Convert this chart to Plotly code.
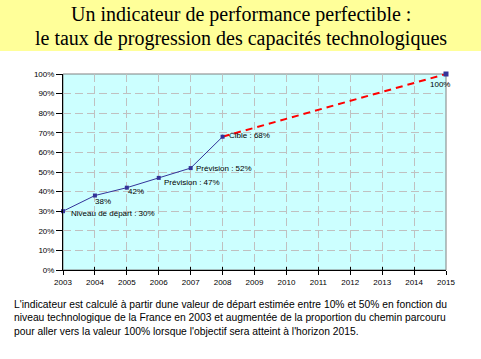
import plotly.graph_objects as go

# ---- data ----
years = [2003, 2004, 2005, 2006, 2007, 2008]
values = [30, 38, 42, 47, 52, 68]
target_years = [2008, 2015]
target_values = [68, 100]
x_ticks = list(range(2003, 2016))
y_ticks = list(range(0, 101, 10))

label_texts = ["Niveau de départ : 30%", "38%", "42%", "Prévision : 47%", "Prévision : 52%", "Cible : 68%", "100%"]
label_x = [2003.18, 2004.25, 2005.29, 2006.1, 2007.1, 2008.14, 2014.8]
label_y = [29, 35.2, 39.8, 44.4, 52, 68.4, 94.9]
label_anchor = ["left", "center", "center", "left", "left", "left", "center"]

title_lines = ["Un indicateur de performance perfectible :",
               "le taux de progression des capacités technologiques"]
footer = ("L'indicateur est calculé à partir dune valeur de départ estimée entre 10% et 50% en fonction du<br>"
          "niveau technologique de la France en 2003 et augmentée de la proportion du chemin parcouru<br>"
          "pour aller vers la valeur 100% lorsque l'objectif sera atteint à l'horizon 2015.")

W, H = 481, 359
L, R, T, B = 63, 35, 74, 89
PW, PH = W - L - R, H - T - B

def px(xp):
    return (xp - L) / PW

def py(yp):
    return (H - B - yp) / PH

navy = "#333399"

fig = go.Figure()
fig.add_trace(go.Scatter(x=target_years, y=target_values, mode="lines",
                         line=dict(color="#FF0000", width=2, dash="7px,5px"),
                         hoverinfo="skip", cliponaxis=False))
fig.add_trace(go.Scatter(x=years, y=values, mode="lines+markers",
                         line=dict(color=navy, width=1),
                         marker=dict(symbol="square", size=4, color=navy),
                         cliponaxis=False))
fig.add_trace(go.Scatter(x=target_years[-1:], y=target_values[-1:], mode="markers",
                         marker=dict(symbol="square", size=5, color=navy),
                         cliponaxis=False))
# helper axis for the inner half of the crossing x ticks
fig.add_trace(go.Scatter(x=x_ticks[:1], y=[None], xaxis="x2", yaxis="y", mode="markers",
                         showlegend=False, hoverinfo="skip"))

shapes = [
    dict(type="rect", xref="paper", yref="paper", x0=px(-20), x1=px(W + 20), y0=py(51), y1=py(-20),
         fillcolor="#FFFF99", line=dict(width=0), layer="below"),
    dict(type="rect", xref="paper", yref="paper", x0=0, x1=1, y0=0, y1=1,
         fillcolor="rgba(0,0,0,0)", line=dict(color="#808080", width=1), layer="below"),
]

annotations = []
for t, yy in zip(title_lines, [14, 39]):
    annotations.append(dict(text=t, xref="paper", yref="paper", x=px(240.5), y=py(yy),
                            xanchor="center", yanchor="middle", showarrow=False,
                            font=dict(family="Liberation Serif", size=20, color="black")))
annotations.append(dict(text=footer, xref="paper", yref="paper", x=px(12), y=py(297),
                        xanchor="left", yanchor="top", align="left", showarrow=False,
                        font=dict(family="Liberation Sans", size=10.3, color="black")))
for t, xx, yy, a in zip(label_texts, label_x, label_y, label_anchor):
    annotations.append(dict(text=t, x=xx, y=yy, xref="x", yref="y", xanchor=a, yanchor="middle",
                            showarrow=False,
                            font=dict(family="Liberation Sans", size=8, color="black")))

fig.update_layout(
    width=W, height=H,
    margin=dict(l=L, r=R, t=T, b=B, pad=0),
    paper_bgcolor="white", plot_bgcolor="#CCFFFF",
    showlegend=False,
    shapes=shapes, annotations=annotations,
    xaxis=dict(range=[x_ticks[0], x_ticks[-1]], tickvals=x_ticks, ticktext=[str(v) for v in x_ticks],
               showgrid=True, gridcolor="#C0C0C0", griddash="8px,4px", gridwidth=1,
               showline=True, linecolor="black", linewidth=1,
               ticks="outside", ticklen=4, tickcolor="black",
               tickfont=dict(family="Liberation Sans", size=8, color="black"), zeroline=False),
    xaxis2=dict(range=[x_ticks[0], x_ticks[-1]], tickvals=x_ticks, showticklabels=False,
                overlaying="x", side="bottom", anchor="y", showgrid=False, zeroline=False,
                showline=False, ticks="inside", ticklen=3, tickcolor="black"),
    yaxis=dict(range=[0, 100], tickvals=y_ticks, ticktext=[f"{v}%" for v in y_ticks],
               showgrid=True, gridcolor="#C0C0C0", griddash="8px,4px", gridwidth=1,
               showline=True, linecolor="black", linewidth=1,
               ticks="outside", ticklen=6, tickcolor="black",
               tickfont=dict(family="Liberation Sans", size=8, color="black"), zeroline=False),
)

fig.write_html("out.html", config={"displayModeBar": False},
               post_script="document.body.style.margin='0';document.body.style.padding='0';"
                           "document.body.style.overflow='hidden';")
